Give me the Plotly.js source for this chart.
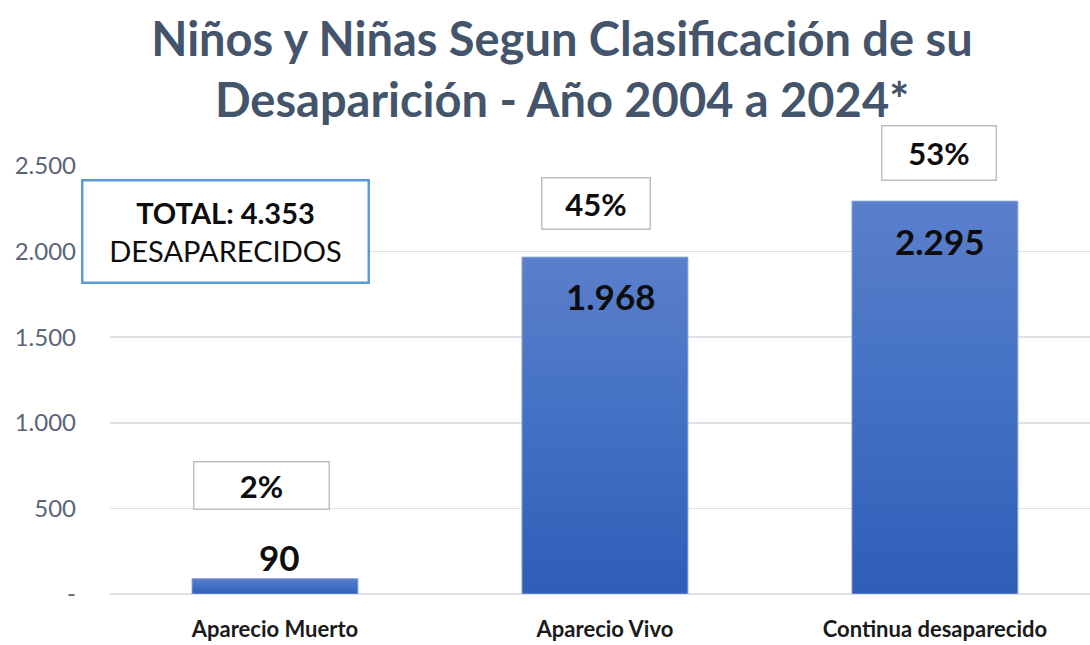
<!DOCTYPE html>
<html>
<head>
<meta charset="utf-8">
<script src="https://cdn.plot.ly/plotly-3.0.1.min.js"></script>
<style>
  html, body { margin: 0; padding: 0; background: #ffffff; }
  #chart { width: 1090px; height: 645px; }
</style>
</head>
<body>
<div id="chart"></div>
<script>
// ---- Data ----
const categories = ["Aparecio Muerto", "Aparecio Vivo", "Continua desaparecido"];
const values = [90, 1968, 2295];
const percents = [2, 45, 53];
const totalValue = 4353;
const yTickVals = [0, 500, 1000, 1500, 2000, 2500];
const yTickText = ["-", "500", "1.000", "1.500", "2.000", "2.500"];

// ---- Helpers / styling ----
function fmt(n) {
  return String(n).replace(/\B(?=(\d{3})+(?!\d))/g, ".");
}
const FONT = "Lato, 'Open Sans', sans-serif";

// label placement (pixel shifts relative to each bar top)
const valueShift = [{x: 5, y: 22}, {x: 6, y: -39}, {x: 5, y: -40}];
const pctShift = [{x: -13, y: 93, w: 134, h: 46}, {x: -9, y: 54, w: 107, h: 50}, {x: 4, y: 48, w: 113, h: 53}];

const annotations = [];
categories.forEach((c, i) => {
  annotations.push({
    x: c, y: values[i], xref: "x", yref: "y",
    text: "<b>" + fmt(values[i]) + "</b>",
    showarrow: false, xshift: valueShift[i].x, yshift: valueShift[i].y,
    font: {family: FONT, size: 35, color: "#0d0d0d"}
  });
  annotations.push({
    x: c, y: values[i], xref: "x", yref: "y",
    text: "<b>" + percents[i] + "%</b>",
    showarrow: false, xshift: pctShift[i].x, yshift: pctShift[i].y,
    width: pctShift[i].w, height: pctShift[i].h,
    bgcolor: "#ffffff", bordercolor: "#bfbfbf", borderwidth: 1.5, borderpad: 0,
    font: {family: FONT, size: 31, color: "#0d0d0d"}
  });
});
annotations.push({
  xref: "paper", yref: "paper",
  x: (225 - 110) / 980, y: (594 - 231) / 428,
  xanchor: "center", yanchor: "middle",
  text: "<b>TOTAL: " + fmt(totalValue) + "</b><br>DESAPARECIDOS",
  showarrow: false, width: 284, height: 100, borderpad: 0,
  bgcolor: "#ffffff", bordercolor: "#5b9bd5", borderwidth: 2.5,
  font: {family: FONT, size: 29, color: "#0d0d0d"}
});

const trace = {
  type: "bar",
  x: categories,
  y: values,
  width: 0.503,
  marker: {color: "#4472c4", line: {color: "rgba(143,170,220,0.9)", width: 1}},
  hoverinfo: "skip",
  cliponaxis: false
};

const layout = {
  width: 1090, height: 645,
  margin: {l: 110, r: 0, t: 166, b: 51},
  paper_bgcolor: "#ffffff",
  plot_bgcolor: "#ffffff",
  font: {family: FONT},
  title: {
    text: "<b>Niños y Niñas Segun Clasificación de su<br>Desaparición - Año 2004 a 2024*</b>",
    font: {family: FONT, size: 47, color: "#44546a"},
    xref: "container", yref: "container",
    x: 562 / 1090, xanchor: "center",
    y: 1 - 56 / 645, yanchor: "middle"
  },
  showlegend: false,
  xaxis: {
    type: "category",
    range: [-0.5, 2.47],
    showgrid: false, zeroline: false, showline: false,
    ticks: "", ticklabelstandoff: 20,
    tickfont: {family: FONT, size: 22, color: "#1a1a1a", weight: "bold"}
  },
  yaxis: {
    range: [0, 2500],
    tickmode: "array", tickvals: yTickVals, ticktext: yTickText,
    showgrid: true, gridcolor: "#dde1e7", gridwidth: 1.5,
    zeroline: true, zerolinecolor: "#dde1e7", zerolinewidth: 1.5,
    showline: false, ticks: "", ticklabelstandoff: 33,
    tickfont: {family: FONT, size: 24, color: "#5a6577"}
  },
  annotations: annotations
};

function applyGradient(gd) {
  const svg = gd.querySelector("svg.main-svg");
  if (!svg) return;
  const ns = "http://www.w3.org/2000/svg";
  let defs = svg.querySelector("defs");
  if (!defs) { defs = document.createElementNS(ns, "defs"); svg.insertBefore(defs, svg.firstChild); }
  if (!svg.querySelector("#barGrad")) {
    const lg = document.createElementNS(ns, "linearGradient");
    lg.setAttribute("id", "barGrad");
    lg.setAttribute("x1", "0"); lg.setAttribute("y1", "0");
    lg.setAttribute("x2", "0"); lg.setAttribute("y2", "1");
    [["0%", "#5b7fcb"], ["45%", "#4472c4"], ["100%", "#2e5eb8"]].forEach(s => {
      const st = document.createElementNS(ns, "stop");
      st.setAttribute("offset", s[0]); st.setAttribute("stop-color", s[1]);
      lg.appendChild(st);
    });
    defs.appendChild(lg);
  }
  gd.querySelectorAll(".barlayer .point path").forEach(p => {
    p.style.fill = "url(#barGrad)";
  });
}

Plotly.newPlot("chart", [trace], layout, {displayModeBar: false, staticPlot: true}).then(gd => {
  applyGradient(gd);
  gd.on("plotly_afterplot", () => applyGradient(gd));
});
</script>
</body>
</html>
